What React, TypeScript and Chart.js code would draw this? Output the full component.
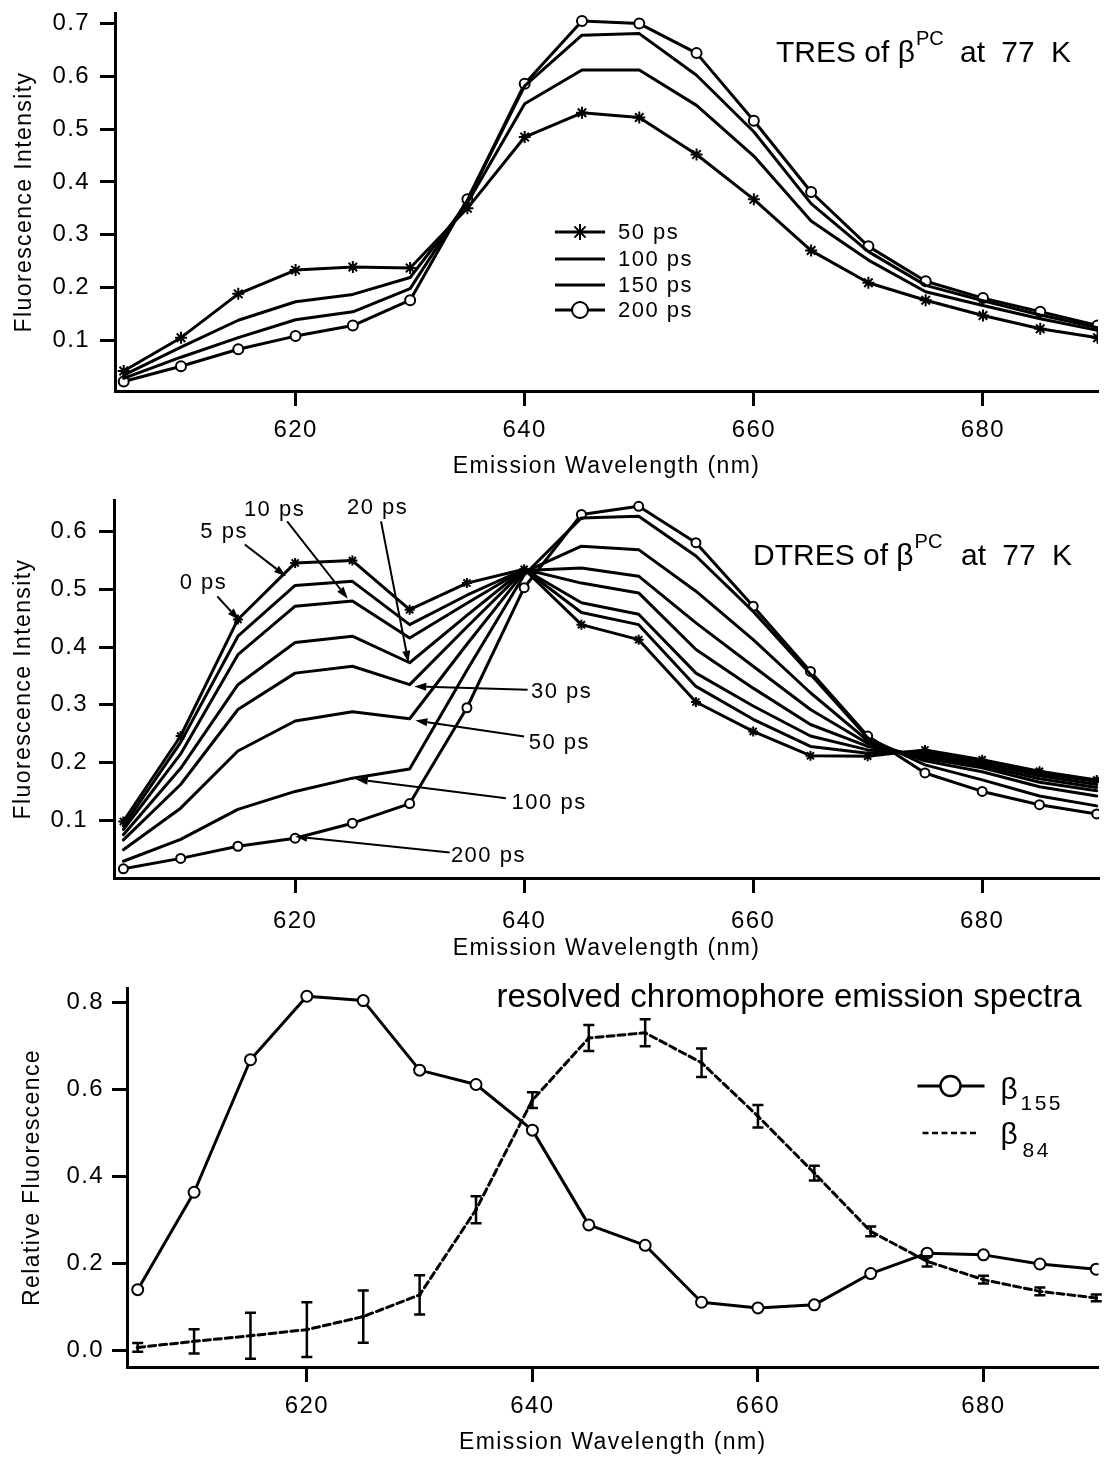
import React, { useEffect, useRef } from 'react';
import { Chart, registerables } from 'chart.js';

Chart.register(...registerables);

const FONT = '"Liberation Sans", Arial, Helvetica, sans-serif';
const PAGE_W = 1106;
const PAGE_H = 1457;

// ---------- shared axis ----------
const WAVELENGTHS = [605, 610, 615, 620, 625, 630, 635, 640, 645, 650, 655, 660, 665, 670, 675, 680, 685, 690];
const X_TICKS = [620, 640, 660, 680];
const X_TITLE = 'Emission Wavelength (nm)';

// ---------- panel 1 : TRES ----------
const TRES_LABELS = ['50 ps', '100 ps', '150 ps', '200 ps'];
const TRES_50 = [0.042, 0.105, 0.188, 0.233, 0.239, 0.237, 0.350, 0.485, 0.531, 0.522, 0.452, 0.367, 0.270, 0.209, 0.176, 0.147, 0.122, 0.105];
const TRES_100 = [0.034, 0.087, 0.138, 0.173, 0.187, 0.219, 0.360, 0.548, 0.612, 0.612, 0.545, 0.449, 0.326, 0.252, 0.192, 0.166, 0.141, 0.119];
const TRES_150 = [0.028, 0.068, 0.105, 0.139, 0.154, 0.198, 0.365, 0.582, 0.678, 0.681, 0.602, 0.495, 0.359, 0.268, 0.204, 0.175, 0.148, 0.124];
const TRES_200 = [0.022, 0.051, 0.083, 0.108, 0.128, 0.176, 0.367, 0.586, 0.705, 0.700, 0.644, 0.516, 0.381, 0.278, 0.212, 0.180, 0.154, 0.128];
const TRES_Y_TICKS = [0.1, 0.2, 0.3, 0.4, 0.5, 0.6, 0.7];

// ---------- panel 2 : DTRES ----------
const DTRES_LABELS = ['0 ps', '5 ps', '10 ps', '20 ps', '30 ps', '50 ps', '100 ps', '200 ps'];
const DTRES_0 = [0.098, 0.246, 0.448, 0.546, 0.550, 0.465, 0.511, 0.535, 0.439, 0.413, 0.305, 0.254, 0.212, 0.211, 0.222, 0.205, 0.185, 0.170];
const DTRES_5 = [0.090, 0.235, 0.419, 0.507, 0.514, 0.439, 0.490, 0.535, 0.460, 0.439, 0.332, 0.275, 0.228, 0.216, 0.219, 0.203, 0.181, 0.167];
const DTRES_10 = [0.084, 0.215, 0.387, 0.471, 0.480, 0.416, 0.476, 0.535, 0.477, 0.457, 0.355, 0.298, 0.246, 0.222, 0.215, 0.199, 0.177, 0.162];
const DTRES_20 = [0.075, 0.190, 0.335, 0.408, 0.419, 0.373, 0.455, 0.535, 0.511, 0.494, 0.396, 0.329, 0.266, 0.228, 0.211, 0.195, 0.172, 0.157];
const DTRES_30 = [0.066, 0.162, 0.292, 0.355, 0.367, 0.335, 0.435, 0.533, 0.537, 0.523, 0.442, 0.367, 0.292, 0.233, 0.207, 0.191, 0.166, 0.151];
const DTRES_50 = [0.049, 0.121, 0.220, 0.272, 0.288, 0.276, 0.405, 0.530, 0.575, 0.569, 0.497, 0.413, 0.321, 0.238, 0.203, 0.184, 0.158, 0.142];
const DTRES_100 = [0.029, 0.067, 0.119, 0.150, 0.173, 0.189, 0.360, 0.525, 0.624, 0.627, 0.558, 0.462, 0.353, 0.243, 0.196, 0.170, 0.142, 0.125];
const DTRES_200 = [0.016, 0.034, 0.055, 0.069, 0.095, 0.129, 0.295, 0.503, 0.630, 0.644, 0.581, 0.471, 0.358, 0.246, 0.182, 0.150, 0.127, 0.111];
const DTRES_Y_TICKS = [0.1, 0.2, 0.3, 0.4, 0.5, 0.6];

// annotation arrows of panel 2 (data units: nm, intensity)
const ARROW_TEXT_NM = [612.0, 613.8, 618.2, 627.2, 640.6, 640.4, 638.9, 633.6];
const ARROW_TEXT_VAL = [0.512, 0.599, 0.638, 0.642, 0.323, 0.234, 0.130, 0.038];
const ARROW_TEXT_ALIGN = ['center', 'center', 'center', 'center', 'left', 'left', 'left', 'left'];
const ARROW_TAIL_NM = [613.2, 615.6, 619.3, 627.5, 640.3, 640.0, 638.4, 633.5];
const ARROW_TAIL_VAL = [0.488, 0.578, 0.618, 0.618, 0.326, 0.245, 0.138, 0.044];
const ARROW_TIP_NM = [615.1, 619.2, 624.6, 629.9, 630.4, 630.5, 625.3, 620.0];
const ARROW_TIP_VAL = [0.447, 0.523, 0.484, 0.373, 0.332, 0.273, 0.171, 0.072];

// ---------- panel 3 : resolved spectra ----------
const B155 = [0.140, 0.364, 0.669, 0.815, 0.805, 0.645, 0.612, 0.507, 0.289, 0.242, 0.111, 0.098, 0.105, 0.177, 0.224, 0.220, 0.199, 0.187];
const B84 = [0.007, 0.021, 0.034, 0.048, 0.078, 0.128, 0.324, 0.576, 0.719, 0.731, 0.662, 0.539, 0.408, 0.274, 0.205, 0.163, 0.136, 0.121];
const B84_ERR = [0.010, 0.028, 0.053, 0.063, 0.060, 0.045, 0.031, 0.018, 0.030, 0.031, 0.033, 0.026, 0.017, 0.011, 0.012, 0.009, 0.009, 0.008];
const REL_Y_TICKS = [0.0, 0.2, 0.4, 0.6, 0.8];

// ---------- helpers ----------
const pts = (vals: number[]) => vals.map((y, i) => ({ x: WAVELENGTHS[i], y }));

type AxisSpec = {
  xMin: number; xMax: number; xHeight: number; xTickPad: number; xTitlePad: number;
  yMin: number; yMax: number; yWidth: number; yTicks: number[]; yTickPad: number; yTitlePad: number; yTitle: string;
};

function makeScales(o: AxisSpec) {
  const grid = { drawOnChartArea: false, drawTicks: true, tickLength: 15, tickWidth: 3, tickColor: '#000', color: '#000' };
  return {
    x: {
      type: 'linear', position: 'bottom', min: o.xMin, max: o.xMax,
      afterBuildTicks: (s: any) => { s.ticks = X_TICKS.map((value) => ({ value })); },
      afterFit: (s: any) => { s.height = o.xHeight; s.paddingLeft = 0; s.paddingRight = 0; },
      border: { display: true, color: '#000', width: 3 },
      grid,
      ticks: { color: '#000', font: { family: FONT, size: 24 }, padding: o.xTickPad, maxRotation: 0, autoSkip: false, callback: (v: any) => String(v) },
      title: { display: true, text: X_TITLE, color: '#000', font: { family: FONT, size: 23 }, padding: { top: 0, bottom: o.xTitlePad } },
    },
    y: {
      type: 'linear', position: 'left', min: o.yMin, max: o.yMax,
      afterBuildTicks: (s: any) => { s.ticks = o.yTicks.map((value) => ({ value })); },
      afterFit: (s: any) => { s.width = o.yWidth; s.paddingTop = 0; s.paddingBottom = 0; },
      border: { display: true, color: '#000', width: 3 },
      grid,
      ticks: { color: '#000', font: { family: FONT, size: 24 }, padding: o.yTickPad, autoSkip: false, callback: (v: any) => Number(v).toFixed(1) },
      title: { display: true, text: o.yTitle, color: '#000', font: { family: FONT, size: 23 }, padding: { top: o.yTitlePad, bottom: 0 } },
    },
  };
}

const spacingPlugin = {
  id: 'letterSpacing',
  beforeLayout(chart: any) { chart.ctx.letterSpacing = '1.4px'; },
  beforeDraw(chart: any) { chart.ctx.letterSpacing = '1.4px'; },
};

function drawStarMark(ctx: CanvasRenderingContext2D, x: number, y: number, r: number) {
  ctx.beginPath();
  for (let k = 0; k < 4; k++) {
    const a = (k * Math.PI) / 4;
    ctx.moveTo(x + Math.cos(a) * r, y + Math.sin(a) * r);
    ctx.lineTo(x - Math.cos(a) * r, y - Math.sin(a) * r);
  }
  ctx.stroke();
}

function drawCircleMark(ctx: CanvasRenderingContext2D, x: number, y: number, r: number) {
  ctx.beginPath();
  ctx.arc(x, y, r, 0, Math.PI * 2);
  ctx.fillStyle = '#fff';
  ctx.fill();
  ctx.stroke();
}

function drawTitle(ctx: CanvasRenderingContext2D, prefix: string, x0: number, xSuffix: number, base: number, supBase: number) {
  ctx.save();
  ctx.fillStyle = '#000';
  ctx.textAlign = 'left';
  ctx.textBaseline = 'alphabetic';
  (ctx as any).letterSpacing = '0px';
  ctx.font = `30px ${FONT}`;
  ctx.fillText(prefix, x0, base);
  const w = ctx.measureText(prefix).width;
  ctx.font = `20px ${FONT}`;
  ctx.fillText('PC', x0 + w + 1, supBase);
  ctx.font = `30px ${FONT}`;
  (ctx as any).wordSpacing = '8px';
  ctx.fillText('at 77 K', xSuffix, base);
  ctx.restore();
}

const baseOptions = {
  responsive: false,
  maintainAspectRatio: false,
  animation: false,
  devicePixelRatio: 1,
  events: [],
  elements: { line: { tension: 0, borderJoinStyle: 'round', borderCapStyle: 'round' } },
};

// ---------- panel 1 config ----------
function buildTres() {
  const styles = [
    { data: TRES_50, pointStyle: 'star', pointRadius: 6 },
    { data: TRES_100, pointStyle: 'circle', pointRadius: 0 },
    { data: TRES_150, pointStyle: 'circle', pointRadius: 0 },
    { data: TRES_200, pointStyle: 'circle', pointRadius: 5 },
  ];
  const datasets = styles.map((s, i) => ({
    label: TRES_LABELS[i],
    data: pts(s.data),
    borderColor: '#000',
    borderWidth: 3,
    pointStyle: s.pointStyle,
    pointRadius: s.pointRadius,
    pointBorderWidth: 2,
    pointBorderColor: '#000',
    pointBackgroundColor: '#fff',
  }));
  const overlay = {
    id: 'tresOverlay',
    afterDraw(chart: any) {
      const ctx: CanvasRenderingContext2D = chart.ctx;
      const right = chart.chartArea.right;
      drawTitle(ctx, 'TRES of β', right - 322, right - 138, 62, 45);
      const rows = [232, 259, 285, 310];
      ctx.save();
      ctx.strokeStyle = '#000';
      ctx.fillStyle = '#000';
      TRES_LABELS.forEach((label, i) => {
        const y = rows[i];
        ctx.lineWidth = 3;
        ctx.beginPath();
        ctx.moveTo(555, y);
        ctx.lineTo(605, y);
        ctx.stroke();
        ctx.lineWidth = 2;
        if (i === 0) drawStarMark(ctx, 580, y, 8);
        if (i === 3) drawCircleMark(ctx, 580, y, 8);
        ctx.fillStyle = '#000';
        ctx.font = `22px ${FONT}`;
        (ctx as any).letterSpacing = '1.5px';
        ctx.textAlign = 'left';
        ctx.textBaseline = 'middle';
        ctx.fillText(label, 618, y + 1);
      });
      ctx.restore();
    },
  };
  return {
    type: 'line',
    data: { datasets },
    options: {
      ...baseOptions,
      layout: { padding: { top: 13, left: 0, right: 0, bottom: 0 } },
      plugins: { legend: { display: false }, tooltip: { enabled: false } },
      scales: makeScales({
        xMin: 604.24, xMax: 690.04, xHeight: 89, xTickPad: 10, xTitlePad: 0,
        yMin: 0.004, yMax: 0.72, yWidth: 115, yTicks: TRES_Y_TICKS, yTickPad: 10, yTitlePad: 11,
        yTitle: 'Fluorescence Intensity',
      }),
    },
    plugins: [spacingPlugin, overlay],
  };
}

// ---------- panel 2 config ----------
function buildDtres() {
  const series = [DTRES_0, DTRES_5, DTRES_10, DTRES_20, DTRES_30, DTRES_50, DTRES_100, DTRES_200];
  const datasets = series.map((vals, i) => ({
    label: DTRES_LABELS[i],
    data: pts(vals),
    borderColor: '#000',
    borderWidth: 3,
    pointStyle: i === 0 ? 'star' : 'circle',
    pointRadius: i === 0 ? 5 : i === series.length - 1 ? 4.5 : 0,
    pointBorderWidth: 2,
    pointBorderColor: '#000',
    pointBackgroundColor: '#fff',
  }));
  const overlay = {
    id: 'dtresOverlay',
    afterDraw(chart: any) {
      const ctx: CanvasRenderingContext2D = chart.ctx;
      const xs = chart.scales.x;
      const ys = chart.scales.y;
      const right = chart.chartArea.right;
      drawTitle(ctx, 'DTRES of β', right - 346, right - 138, 85, 68);
      ctx.save();
      ctx.strokeStyle = '#000';
      ctx.fillStyle = '#000';
      DTRES_LABELS.forEach((label, i) => {
        const x1 = xs.getPixelForValue(ARROW_TAIL_NM[i]);
        const y1 = ys.getPixelForValue(ARROW_TAIL_VAL[i]);
        const x2 = xs.getPixelForValue(ARROW_TIP_NM[i]);
        const y2 = ys.getPixelForValue(ARROW_TIP_VAL[i]);
        const ang = Math.atan2(y2 - y1, x2 - x1);
        const hl = 12;
        const hw = 4;
        const bx = x2 - Math.cos(ang) * hl;
        const by = y2 - Math.sin(ang) * hl;
        ctx.lineWidth = 2;
        ctx.beginPath();
        ctx.moveTo(x1, y1);
        ctx.lineTo(bx, by);
        ctx.stroke();
        ctx.beginPath();
        ctx.moveTo(x2, y2);
        ctx.lineTo(bx - Math.sin(ang) * hw, by + Math.cos(ang) * hw);
        ctx.lineTo(bx + Math.sin(ang) * hw, by - Math.cos(ang) * hw);
        ctx.closePath();
        ctx.fill();
        ctx.font = `22px ${FONT}`;
        (ctx as any).letterSpacing = '1.5px';
        ctx.textAlign = ARROW_TEXT_ALIGN[i] as CanvasTextAlign;
        ctx.textBaseline = 'middle';
        ctx.fillText(label, xs.getPixelForValue(ARROW_TEXT_NM[i]), ys.getPixelForValue(ARROW_TEXT_VAL[i]));
      });
      ctx.restore();
    },
  };
  return {
    type: 'line',
    data: { datasets },
    options: {
      ...baseOptions,
      layout: { padding: { top: 20, left: 0, right: 0, bottom: 0 } },
      plugins: { legend: { display: false }, tooltip: { enabled: false } },
      scales: makeScales({
        xMin: 604.18, xMax: 690.2, xHeight: 92, xTickPad: 14, xTitlePad: 8,
        yMin: 0.0, yMax: 0.655, yWidth: 114, yTicks: DTRES_Y_TICKS, yTickPad: 11, yTitlePad: 10,
        yTitle: 'Fluorescence Intensity',
      }),
    },
    plugins: [spacingPlugin, overlay],
  };
}

// ---------- panel 3 config ----------
function buildResolved() {
  const datasets = [
    {
      label: 'β155',
      data: pts(B155),
      borderColor: '#000',
      borderWidth: 3,
      pointStyle: 'circle',
      pointRadius: 5.5,
      pointBorderWidth: 2,
      pointBorderColor: '#000',
      pointBackgroundColor: '#fff',
    },
    {
      label: 'β84',
      data: pts(B84),
      borderColor: '#000',
      borderWidth: 3,
      borderDash: [7, 4],
      pointStyle: 'circle',
      pointRadius: 1.5,
      pointBorderWidth: 1,
      pointBorderColor: '#000',
      pointBackgroundColor: '#000',
    },
  ];
  const errorBars = {
    id: 'errorBars',
    afterDatasetsDraw(chart: any) {
      const ctx: CanvasRenderingContext2D = chart.ctx;
      const xs = chart.scales.x;
      const ys = chart.scales.y;
      ctx.save();
      ctx.strokeStyle = '#000';
      ctx.lineWidth = 2.5;
      WAVELENGTHS.forEach((w, i) => {
        const x = xs.getPixelForValue(w);
        const yTop = ys.getPixelForValue(B84[i] + B84_ERR[i]);
        const yBot = ys.getPixelForValue(B84[i] - B84_ERR[i]);
        ctx.beginPath();
        ctx.moveTo(x, yTop);
        ctx.lineTo(x, yBot);
        ctx.moveTo(x - 5.5, yTop);
        ctx.lineTo(x + 5.5, yTop);
        ctx.moveTo(x - 5.5, yBot);
        ctx.lineTo(x + 5.5, yBot);
        ctx.stroke();
      });
      ctx.restore();
    },
  };
  const overlay = {
    id: 'resolvedOverlay',
    afterDraw(chart: any) {
      const ctx: CanvasRenderingContext2D = chart.ctx;
      const right = chart.chartArea.right;
      ctx.save();
      ctx.fillStyle = '#000';
      ctx.strokeStyle = '#000';
      (ctx as any).letterSpacing = '0px';
      ctx.font = `33px ${FONT}`;
      ctx.textAlign = 'right';
      ctx.textBaseline = 'alphabetic';
      ctx.fillText('resolved chromophore emission spectra', right - 17, 37);
      // legend
      ctx.lineWidth = 3;
      ctx.beginPath();
      ctx.moveTo(right - 181, 116);
      ctx.lineTo(right - 114, 116);
      ctx.stroke();
      ctx.lineWidth = 2.5;
      drawCircleMark(ctx, right - 148, 116, 10);
      ctx.lineWidth = 2.5;
      ctx.setLineDash([6, 3.5]);
      ctx.beginPath();
      ctx.moveTo(right - 176, 163);
      ctx.lineTo(right - 119, 163);
      ctx.stroke();
      ctx.setLineDash([]);
      ctx.fillStyle = '#000';
      ctx.textAlign = 'left';
      ctx.font = `30px ${FONT}`;
      ctx.fillText('β', right - 98, 129);
      ctx.fillText('β', right - 98, 174);
      ctx.font = `21px ${FONT}`;
      (ctx as any).letterSpacing = '2.5px';
      ctx.fillText('155', right - 78, 140);
      ctx.fillText('84', right - 76, 187);
      ctx.restore();
    },
  };
  return {
    type: 'line',
    data: { datasets },
    options: {
      ...baseOptions,
      layout: { padding: { top: 18, left: 0, right: 0, bottom: 0 } },
      plugins: { legend: { display: false }, tooltip: { enabled: false } },
      scales: makeScales({
        xMin: 604.05, xMax: 690.2, xHeight: 90, xTickPad: 10, xTitlePad: 1,
        yMin: -0.038, yMax: 0.834, yWidth: 127, yTicks: REL_Y_TICKS, yTickPad: 8, yTitlePad: 19,
        yTitle: 'Relative Fluorescence',
      }),
    },
    plugins: [spacingPlugin, errorBars, overlay],
  };
}

function ChartCanvas({ top, height, build }: { top: number; height: number; build: () => any }) {
  const ref = useRef<HTMLCanvasElement | null>(null);
  useEffect(() => {
    if (!ref.current) return;
    const chart = new Chart(ref.current, build());
    return () => chart.destroy();
  }, [build]);
  return (
    <div style={{ position: 'absolute', left: 0, top, width: PAGE_W, height }}>
      <canvas ref={ref} width={PAGE_W} height={height} style={{ display: 'block', width: PAGE_W, height }} />
    </div>
  );
}

export default function App() {
  return (
    <div style={{ position: 'absolute', left: 0, top: 0, width: PAGE_W, height: PAGE_H, background: '#fff', overflow: 'hidden' }}>
      <ChartCanvas top={0} height={480} build={buildTres} />
      <ChartCanvas top={480} height={490} build={buildDtres} />
      <ChartCanvas top={970} height={487} build={buildResolved} />
    </div>
  );
}
